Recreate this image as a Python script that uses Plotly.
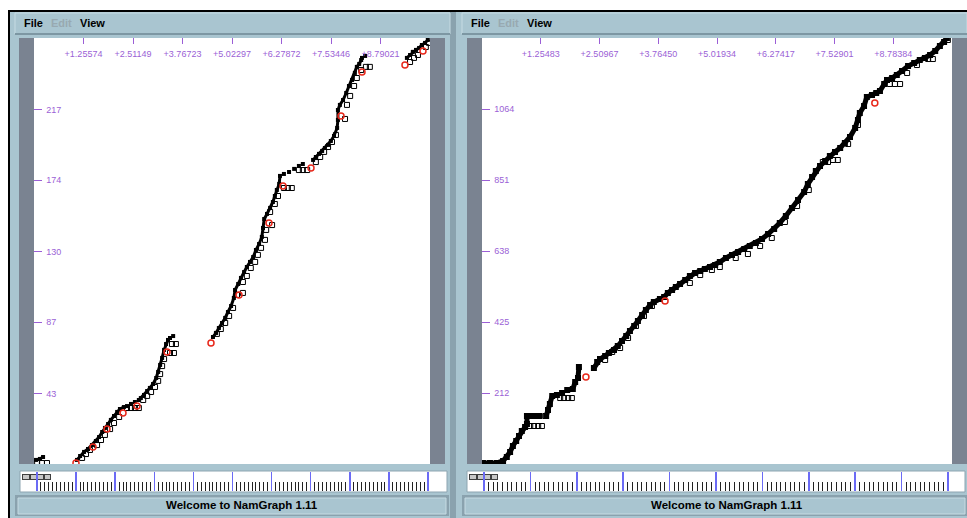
import plotly.graph_objects as go

W, H = 967, 518

# ---------------- left graph: sequence number vs time ----------------
left_send_t = [0.05, 0.15, 0.23, None,
               1.09, 1.17, 1.27, 1.37, 1.47, 1.57, 1.65, 1.73, 1.80, 1.88, 1.95, 2.03, 2.11, 2.18, 2.28, None,
               2.36, None, 2.46, None, 2.56, None,
               2.66, 2.71, 2.79, 2.87, 2.94, 3.02, 3.10, 3.15, 3.20, 3.25, 3.30, 3.35, 3.40, None,
               3.45, None, 3.53, None,
               4.54, 4.62, 4.69, 4.77, 4.85, 4.92, 5.00, 5.07, 5.10, 5.18, 5.25, 5.33, 5.40, 5.48, 5.56,
               5.63, 5.71, 5.78, 5.81, 5.84, 5.91, 5.99, 6.06, 6.11, 6.16, 6.22, 6.24, None,
               6.34, None, 6.47, None, 6.60, None, 6.72, None, 6.82, None,
               7.08, 7.15, 7.23, 7.31, 7.38, 7.46, 7.53, 7.61, 7.69, 7.71, 7.71, 7.76, 7.84, 7.92, 7.99,
               8.07, 8.14, 8.19, 8.25, 8.30, None,
               8.32, None, 8.40, None,
               9.46, 9.54, 9.61, 9.69, 9.77, 9.84, 9.92, 9.99]
left_send_seq = [2.5, 3.1, 4.3, None,
                 2.5, 4.9, 7.4, 9.2, 11.6, 14.1, 16.5, 19.6, 22.1, 24.5, 27.0, 29.4, 31.9, 33.7, 34.9, None,
                 35.5, None, 36.8, None, 38.0, None,
                 39.2, 40.4, 42.3, 44.7, 46.6, 49.0, 52.7, 56.4, 60.7, 65.0, 69.9, 73.5, 76.0, None,
                 77.2, None, 78.4, None,
                 77.8, 80.3, 83.3, 86.4, 89.5, 93.1, 96.8, 101.7, 106.6, 110.3, 114.0, 117.6, 120.7, 123.8, 126.8,
                 131.1, 134.8, 139.1, 144.6, 150.1, 153.2, 156.9, 160.5, 164.2, 167.9, 171.6, 176.5, None,
                 177.7, None, 178.9, None, 180.8, None, 182.6, None, 183.8, None,
                 186.3, 188.1, 190.0, 191.8, 193.6, 195.5, 197.9, 201.0, 205.9, 210.8, 216.9, 220.0, 223.0, 227.3, 231.6,
                 235.3, 239.6, 243.3, 245.1, 247.5, None,
                 248.8, None, 250.0, None,
                 248.8, 250.6, 252.5, 253.7, 254.9, 256.7, 258.0, 259.8]

left_ack_t = [0.08, 0.20, 0.33,
              1.22, 1.32, 1.42, 1.60, 1.70, 1.80, 1.93, 2.03, 2.16, 2.36, 2.46, 2.56, 2.66,
              2.77, 2.87, 2.97, 3.07, 3.15, 3.20, 3.25, 3.30, 3.45, 3.55, 3.50, 3.60,
              4.64, 4.74, 4.85, 4.95, 5.05, 5.15, 5.30, 5.30, 5.40, 5.50, 5.61, 5.68, 5.76, 5.86, 5.89,
              6.04, 5.99, 6.11, 6.19, 6.34, 6.44, 6.54, 6.72, 6.82, 6.93,
              7.15, 7.26, 7.36, 7.46, 7.56, 7.66, 7.89, 7.94, 8.02, 8.12, 8.19, 8.30, 8.42, 8.52,
              9.54, 9.64, 9.74, 9.94, 10.02]
left_ack_seq = [0.6, 0.6, 0.6,
                3.7, 6.1, 8.6, 11.6, 14.7, 17.8, 21.4, 25.1, 28.8, 34.3, 34.3, 34.3, 34.3,
                39.2, 41.7, 44.1, 47.2, 50.9, 55.1, 60.0, 64.3, 68.0, 68.0, 73.5, 73.5,
                79.7, 82.7, 86.4, 90.7, 95.6, 103.6, 104.8, 111.5, 115.2, 120.1, 123.8, 128.1, 132.4, 137.3, 143.4,
                146.4, 154.4, 159.3, 164.2, 169.1, 169.1, 169.1, 180.1, 180.1, 180.1,
                185.0, 188.1, 191.2, 194.2, 197.3, 201.6, 211.4, 220.0, 225.5, 231.6, 236.5, 241.4, 243.3, 243.3,
                246.3, 248.8, 250.6, 255.5, 258.0]

left_drop_t = [1.065, 1.497, 1.852, 2.258, 2.613, 3.374, 4.490, 5.200, 5.961, 6.316, 7.027, 7.788, 8.321, 9.411, 9.868]
left_drop_seq = [0.6, 10.4, 21.4, 31.3, 35.5, 68.6, 74.1, 103.6, 147.7, 170.3, 181.4, 213.2, 240.2, 244.5, 253.1]

left_x_ticks = [1.25574, 2.51149, 3.76723, 5.02297, 6.27872, 7.53446, 8.79021]
left_x_max = 10.04594
left_y_ticks = [43, 87, 130, 174, 217]
left_y_max = 261

# ---------------- right graph: sequence number vs time ----------------
right_send_t = [0.02, 0.17, 0.32, 0.45, 0.53, 0.60, 0.66, 0.73, 0.79, 0.85, 0.92, 0.96, 0.96, None,
                1.05, None, 1.13, None, 1.22, None,
                1.37, 1.41, 1.45, 1.50, None,
                1.60, None, 1.71, None, 1.82, None,
                1.94, 1.99, None, 2.05, 2.07, None,
                2.39, 2.46, 2.52, 2.63, 2.71, 2.82, 2.90, 2.99, 3.08, 3.16, 3.25, 3.33, 3.42, 3.50, 3.59,
                3.67, 3.80, 3.89, 3.97, 4.06, 4.14, 4.23, 4.34, 4.44, 4.55, 4.66, 4.76, 4.87, 4.98, 5.08,
                5.21, 5.34, 5.47, 5.60, 5.72, 5.85, 5.98, 6.11, 6.24, 6.36, 6.49, 6.62, 6.75, 6.88, 6.96,
                7.05, 7.13, 7.22, 7.33, 7.43, 7.54, 7.65, 7.75, 7.86, 7.97, 8.03, 8.07, 8.16, 8.22, 8.33,
                8.42, 8.50, 8.59, 8.65, 8.76, 8.86, 8.97, 9.10, 9.23, 9.35, 9.46, 9.57, 9.68, 9.78, 9.87, 9.93]
right_send_seq = [3.0, 3.0, 3.0, 9.0, 21.0, 36.0, 54.0, 68.9, 83.9, 98.9, 110.9, 119.9, 143.9, None,
                  143.9, None, 143.9, None, 143.9, None,
                  143.9, 161.9, 179.9, 203.8, None,
                  206.8, None, 212.8, None, 221.8, None,
                  224.8, 245.8, None, 257.8, 290.8, None,
                  287.8, 305.8, 314.7, 323.7, 332.7, 341.7, 353.7, 368.7, 383.7, 398.7, 413.7, 428.7, 446.6, 461.6, 476.6,
                  485.6, 494.6, 500.6, 512.6, 521.6, 530.6, 539.6, 551.6, 563.5, 572.5, 578.5, 584.5, 590.5, 596.5, 605.5,
                  617.5, 626.5, 635.5, 644.5, 653.5, 662.5, 674.5, 689.4, 704.4, 722.4, 743.4, 767.4, 791.4, 815.3, 839.3,
                  860.3, 878.3, 893.3, 908.3, 923.3, 935.3, 947.2, 962.2, 980.2, 1007.2, 1031.2, 1052.2, 1073.1, 1100.1, 1106.1,
                  1112.1, 1118.1, 1139.1, 1151.1, 1157.1, 1166.1, 1178.1, 1193.1, 1202.0, 1211.0, 1217.0, 1226.0, 1238.0, 1253.0, 1265.0, 1277.0]

right_ack_t = [0.17, 0.28, 0.38, 1.03, 1.11, 1.20, 1.28, 1.35, 1.67, 1.75, 1.84, 1.92,
               2.63, 2.78, 2.95, 3.12, 3.29, 3.46, 3.63, 4.44, 4.66, 4.91, 5.08, 5.42, 5.68, 5.94,
               6.19, 6.47, 6.73, 6.98, 7.28, 7.39, 7.50, 7.60, 7.82, 8.03, 8.71, 8.82, 8.93, 9.08,
               9.29, 9.53, 9.63, 9.95]
right_ack_seq = [0, 0, 3.0, 113.9, 113.9, 113.9, 113.9, 143.9, 197.8, 197.8, 197.8, 197.8,
                 311.8, 335.7, 347.7, 377.7, 413.7, 443.6, 473.6, 542.6, 566.5, 581.5, 590.5, 617.5, 629.5, 653.5,
                 677.5, 725.4, 773.4, 821.3, 905.3, 905.3, 911.3, 911.3, 959.2, 1016.2, 1139.1, 1139.1, 1139.1, 1172.1,
                 1196.0, 1214.0, 1214.0, 1271.0]

right_drop_t = [2.22, 3.91, 8.39]
right_drop_seq = [260.8, 488.6, 1082.1]

right_x_ticks = [1.25483, 2.50967, 3.76450, 5.01934, 6.27417, 7.52901, 8.78384]
right_x_max = 10.03868
right_y_ticks = [212, 425, 638, 851, 1064]
right_y_max = 1277

# ---------------- styling ----------------
PANEL = "#a9c5d0"
STRIP = "#7a8391"
PURPLE = "#9b5fd6"
FONT = "Liberation Sans"


def fx(x):
    return x / W


def fy(y):
    return 1 - y / H


def box(x0, y0, x1, y1, fill, line=None, lw=0):
    return dict(type="rect", xref="paper", yref="paper",
                x0=fx(x0), x1=fx(x1), y0=fy(y1), y1=fy(y0),
                fillcolor=fill, line=dict(color=line or fill, width=lw), layer="below")


fig = go.Figure()


def add_graph(n, send_t, send_s, ack_t, ack_s, drop_t, drop_s, lw, ms):
    xa, ya = ("x", "y") if n == 1 else ("x2", "y2")
    fig.add_trace(go.Scatter(x=send_t, y=send_s, mode="lines+markers", xaxis=xa, yaxis=ya,
                             line=dict(color="black", width=lw),
                             marker=dict(symbol="square", size=ms, color="black"),
                             hoverinfo="skip", showlegend=False))
    fig.add_trace(go.Scatter(x=ack_t, y=ack_s, mode="markers", xaxis=xa, yaxis=ya,
                             marker=dict(symbol="square-open", size=5, color="black", line=dict(width=1)),
                             hoverinfo="skip", showlegend=False))
    fig.add_trace(go.Scatter(x=drop_t, y=drop_s, mode="markers", xaxis=xa, yaxis=ya,
                             marker=dict(symbol="circle-open", size=6, color="#e8291c", line=dict(width=1.5)),
                             hoverinfo="skip", showlegend=False))


add_graph(1, left_send_t, left_send_seq, left_ack_t, left_ack_seq, left_drop_t, left_drop_seq, 3, 4)
add_graph(2, right_send_t, right_send_seq, right_ack_t, right_ack_seq, right_drop_t, right_drop_seq, 5, 6)

# timeline strips use their own axes (1 s grid, 0.1 s minor ticks)
for xa, ya in (("x3", "y3"), ("x4", "y4")):
    fig.add_trace(go.Scatter(x=[None], y=[None], xaxis=xa, yaxis=ya, showlegend=False, hoverinfo="skip"))


def xaxis_main(x0, x1, ticks, xmax, yanchor):
    return dict(domain=[fx(x0), fx(x1)], range=[0, xmax], side="top", anchor=yanchor,
                tickvals=ticks, ticktext=["+%.5f" % v for v in ticks],
                ticks="inside", ticklen=6, tickcolor=PURPLE, tickwidth=1,
                ticklabelposition="inside", ticklabelstandoff=6,
                tickfont=dict(family=FONT, size=9, color=PURPLE),
                showgrid=False, zeroline=False, showline=False, fixedrange=True)


def yaxis_main(xanchor, ticks, ymax):
    return dict(domain=[fy(464), fy(38)], range=[0, ymax], anchor=xanchor,
                tickvals=ticks, ticktext=[str(v) for v in ticks],
                ticks="inside", ticklen=8, tickcolor=PURPLE, tickwidth=1,
                ticklabelposition="inside", ticklabelstandoff=3,
                tickfont=dict(family=FONT, size=9, color=PURPLE),
                showgrid=False, zeroline=False, showline=False, fixedrange=True)


def xaxis_line(x0, x1, t0, t1, yanchor):
    return dict(domain=[fx(x0), fx(x1)], range=[t0, t1], anchor=yanchor,
                dtick=1, tick0=0, showticklabels=False, ticks="",
                showgrid=True, gridcolor="#6b6bf5", gridwidth=1.5,
                minor=dict(dtick=0.1, tick0=0, ticks="inside", ticklen=9, tickcolor="#222222",
                           tickwidth=1, showgrid=False),
                zeroline=False, showline=False, fixedrange=True)


def yaxis_line(xanchor):
    return dict(domain=[fy(491), fy(472)], range=[0, 1], anchor=xanchor,
                showticklabels=False, ticks="", showgrid=False, zeroline=False, showline=False,
                fixedrange=True)


shapes = [
    # window frame
    box(0, 0, W, 10, "white"),
    box(0, 0, 8, H, "white"),
    box(8, 10, W, 12, "black"),
    box(8, 10, 10, H, "black"),
    # separator between the two windows
    box(450, 12, 456, H, "#8aa2ae"),
    # menu bars
    box(15, 13, 450, 34, PANEL, "#c6dbe3", 1),
    box(15, 33, 450, 35, "#7d97a3"),
    box(462, 13, W, 34, PANEL, "#c6dbe3", 1),
    box(462, 33, W, 35, "#7d97a3"),
    # scroll strips beside the plots
    box(19, 38, 34, 464, STRIP),
    box(430, 38, 445, 464, STRIP),
    box(467, 38, 482, 464, STRIP),
    box(952, 38, W, 464, STRIP),
    # timeline boxes
    box(20, 471, 447, 492, "white", "#8da5b1", 1),
    box(467, 471, W - 2, 492, "white", "#8da5b1", 1),
    # status bars
    box(15, 495, 449, 516, "#8aa2ae"),
    box(18, 498, 446, 514, PANEL, "#c6dbe3", 1),
    box(462, 495, W, 516, "#8aa2ae"),
    box(465, 498, W - 2, 514, PANEL, "#c6dbe3", 1),
]

# small control buttons at the start of each timeline
for bx in (22, 469):
    shapes.append(box(bx, 474, bx + 29, 480, "#3f3f3f"))
    for k, w in ((1, 6), (9, 5), (16, 5), (23, 5)):
        shapes.append(box(bx + k, 475, bx + k + w, 479, "#c8c8c8"))


def label(x, y, text, color="black", size=11, bold=True, anchor="left"):
    return dict(x=fx(x), y=fy(y), xref="paper", yref="paper", showarrow=False,
                xanchor=anchor, yanchor="middle",
                text=("<b>%s</b>" % text) if bold else text,
                font=dict(family=FONT, size=size, color=color))


annotations = [
    label(22, 23, "File"), label(49, 23, "Edit", color="#98a9b1"), label(78, 23, "View"),
    label(469, 23, "File"), label(496, 23, "Edit", color="#98a9b1"), label(525, 23, "View"),
    label(242, 505, "Welcome to NamGraph 1.11", size=11.5, anchor="center"),
    label(727, 505, "Welcome to NamGraph 1.11", size=11.5, anchor="center"),
]

fig.update_layout(
    width=W, height=H, margin=dict(l=0, r=0, t=0, b=0),
    paper_bgcolor=PANEL, plot_bgcolor="white",
    xaxis=xaxis_main(34, 430, left_x_ticks, left_x_max, "y"),
    yaxis=yaxis_main("x", left_y_ticks, left_y_max),
    xaxis2=xaxis_main(482, 952, right_x_ticks, right_x_max, "y2"),
    yaxis2=yaxis_main("x2", right_y_ticks, right_y_max),
    xaxis3=xaxis_line(35, 431, -0.051, 10.077, "y3"), yaxis3=yaxis_line("x3"),
    xaxis4=xaxis_line(482, 951, -0.043, 10.065, "y4"), yaxis4=yaxis_line("x4"),
    shapes=shapes, annotations=annotations,
    font=dict(family=FONT), hovermode=False, showlegend=False,
)

fig.write_html("out.html", config={"displayModeBar": False, "staticPlot": True})
